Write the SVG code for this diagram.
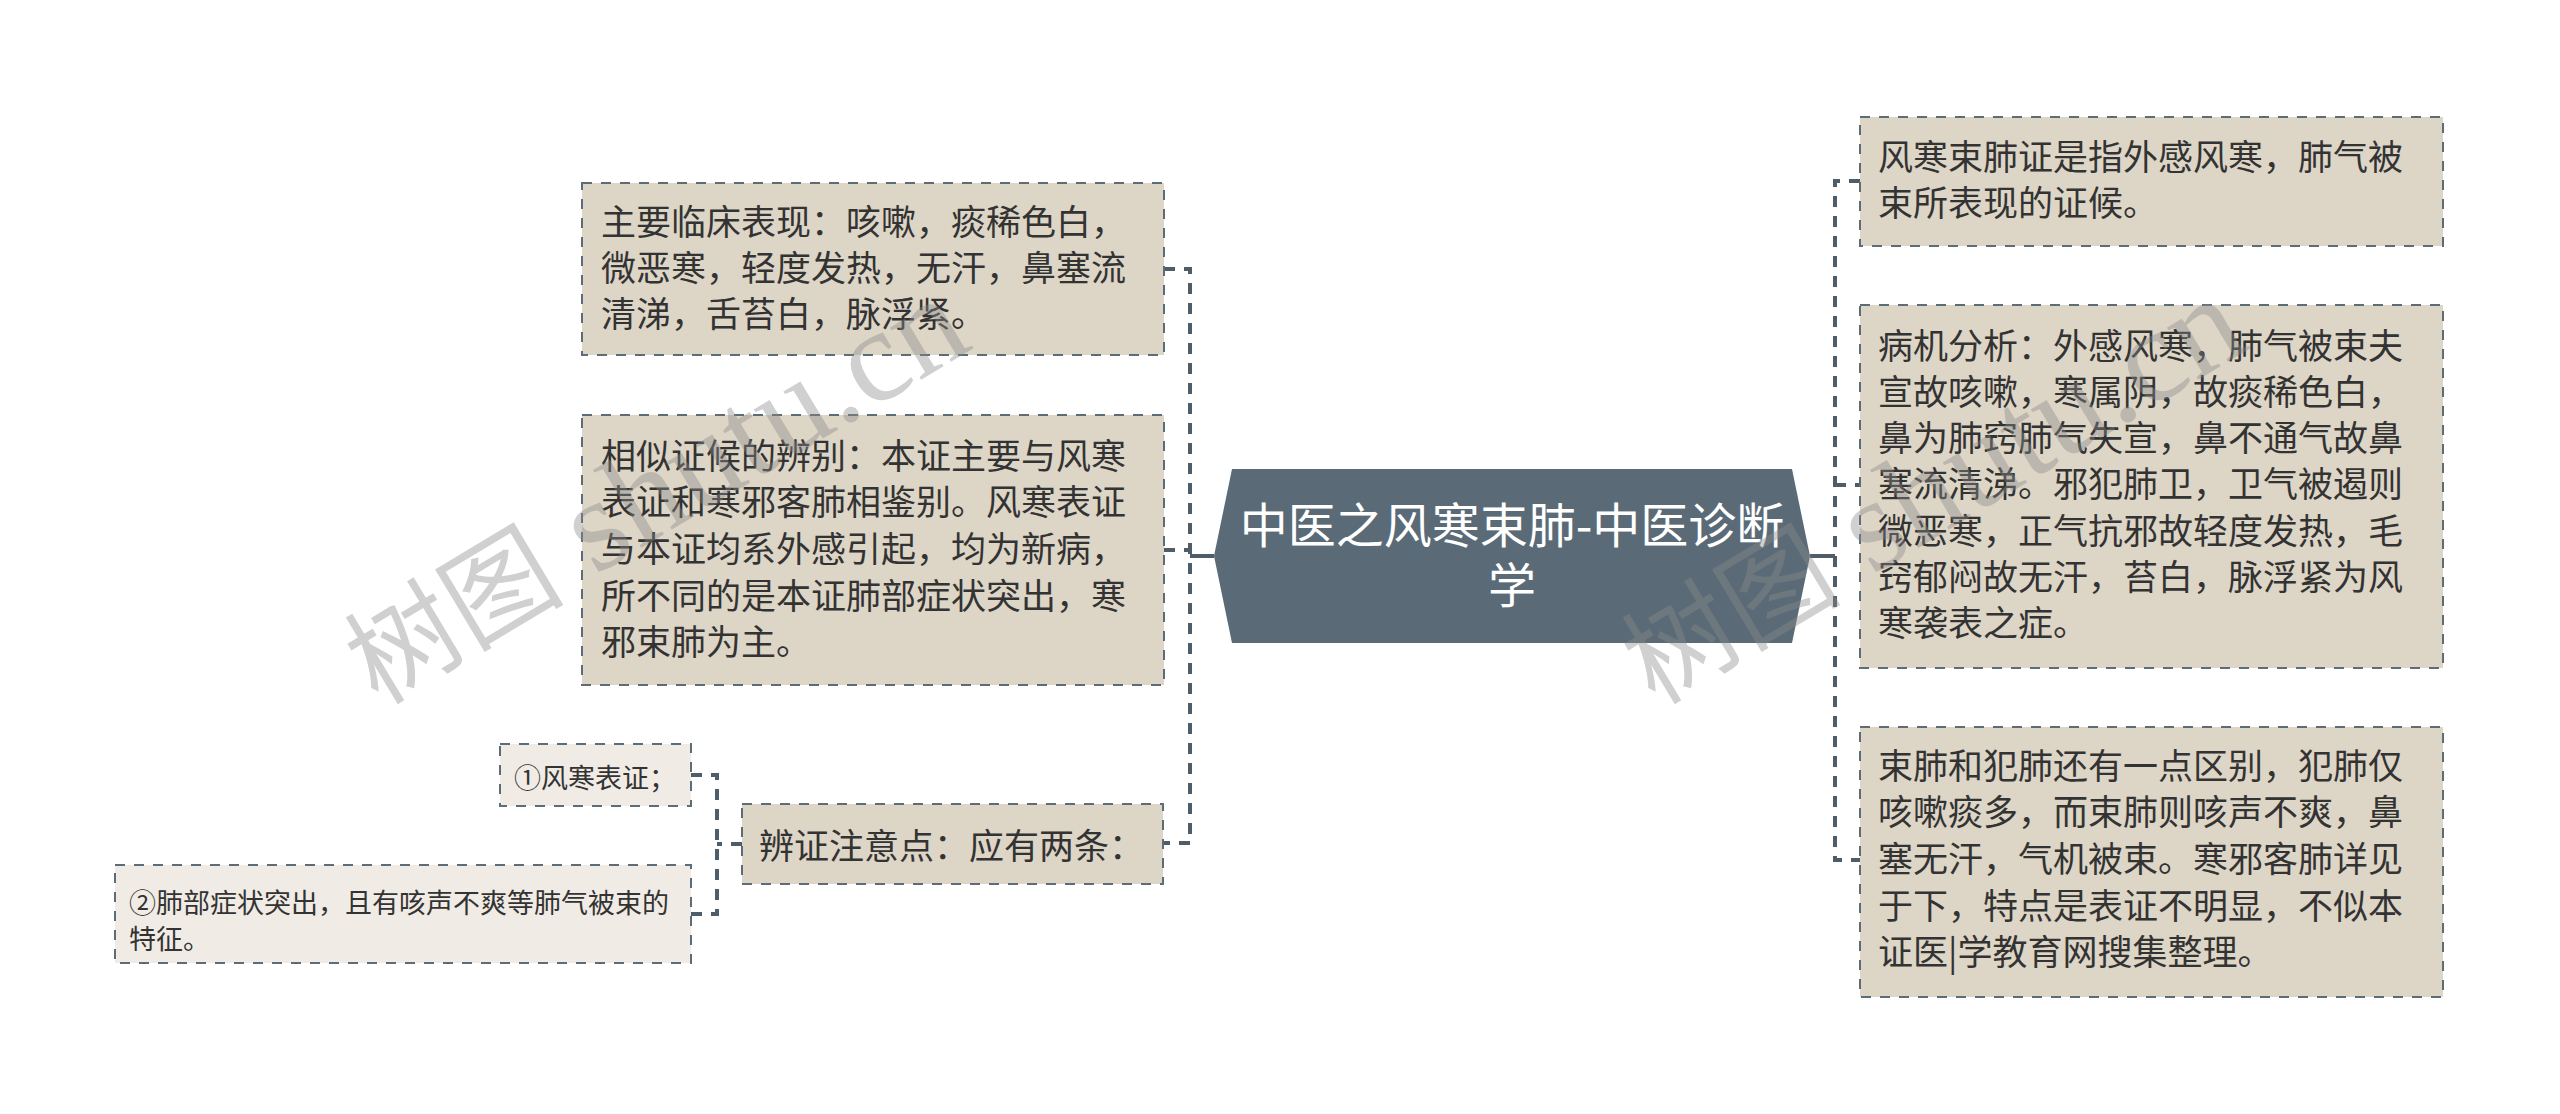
<svg xmlns="http://www.w3.org/2000/svg" width="2560" height="1114" viewBox="0 0 2560 1114">
<style>
.box{fill:#ddd5c6;stroke:#5d6d78;stroke-width:2;stroke-dasharray:10 9}
.sub{fill:#f0ece5;stroke:#5d6d78;stroke-width:2;stroke-dasharray:10 9}
.t{font-family:"Noto Sans CJK SC","Noto Sans",sans-serif;font-size:35px;fill:#333333}
.ts{font-family:"Noto Sans CJK SC","Noto Sans",sans-serif;font-size:27px;fill:#333333}
.title{font-family:"Noto Sans CJK SC","Noto Sans",sans-serif;font-size:48px;fill:#ffffff;text-anchor:middle}
.dash{fill:none;stroke:#4e5d68;stroke-width:4;stroke-dasharray:11 9}
.solid{fill:none;stroke:#4e5d68;stroke-width:4}
.wm{font-family:"Liberation Serif","Noto Sans CJK SC",serif;fill:#8a8a8a;fill-opacity:0.4;font-size:110px}
.wml{font-size:132px}
</style>
<rect width="2560" height="1114" fill="#ffffff"/>
<g id="connectors">
<path class="solid" d="M1214,556 H1190"/>
<path class="dash" d="M1164,269 H1190 V843 H1163"/>
<path class="dash" d="M1164,550 H1190"/>
<path class="solid" d="M1810,556 H1835"/>
<path class="dash" d="M1860,181 H1835 V860 H1860"/>
<path class="dash" d="M1835,485 H1860"/>
<path class="dash" d="M742,844 H717"/>
<path class="dash" d="M691,775 H717 V914 H691"/>
</g>
<g id="center">
<polygon points="1232,469 1792,469 1810,556 1792,643 1232,643 1214,556" fill="#5a6b77"/>
<text class="title"><tspan x="1512" y="543">中医之风寒束肺-中医诊断</tspan><tspan x="1512" y="603">学</tspan></text>
</g>
<g id="node-l1">
<rect class="box" x="582" y="183" width="582" height="172"/>
<text class="t"><tspan x="601" y="235">主要临床表现：咳嗽，痰稀色白，</tspan><tspan x="601" y="281">微恶寒，轻度发热，无汗，鼻塞流</tspan><tspan x="601" y="327">清涕，舌苔白，脉浮紧。</tspan></text>
</g>
<g id="node-l2">
<rect class="box" x="582" y="415" width="582" height="270"/>
<text class="t"><tspan x="601" y="469">相似证候的辨别：本证主要与风寒</tspan><tspan x="601" y="515">表证和寒邪客肺相鉴别。风寒表证</tspan><tspan x="601" y="562">与本证均系外感引起，均为新病，</tspan><tspan x="601" y="609">所不同的是本证肺部症状突出，寒</tspan><tspan x="601" y="655">邪束肺为主。</tspan></text>
</g>
<g id="node-l3">
<rect class="box" x="742" y="804" width="421" height="80"/>
<text class="t" x="759" y="859">辨证注意点：应有两条：</text>
</g>
<g id="node-s1">
<rect class="sub" x="500" y="744" width="191" height="62"/>
<text class="ts" x="514" y="788">①风寒表证；</text>
</g>
<g id="node-s2">
<rect class="sub" x="115" y="865" width="576" height="98"/>
<text class="ts"><tspan x="129" y="913">②肺部症状突出，且有咳声不爽等肺气被束的</tspan><tspan x="129" y="949">特征。</tspan></text>
</g>
<g id="node-r1">
<rect class="box" x="1860" y="117" width="583" height="129"/>
<text class="t"><tspan x="1878" y="170">风寒束肺证是指外感风寒，肺气被</tspan><tspan x="1878" y="216">束所表现的证候。</tspan></text>
</g>
<g id="node-r2">
<rect class="box" x="1860" y="305" width="583" height="363"/>
<text class="t"><tspan x="1878" y="359">病机分析：外感风寒，肺气被束夫</tspan><tspan x="1878" y="405">宣故咳嗽，寒属阴，故痰稀色白，</tspan><tspan x="1878" y="451">鼻为肺窍肺气失宣，鼻不通气故鼻</tspan><tspan x="1878" y="497">塞流清涕。邪犯肺卫，卫气被遏则</tspan><tspan x="1878" y="544">微恶寒，正气抗邪故轻度发热，毛</tspan><tspan x="1878" y="590">窍郁闷故无汗，苔白，脉浮紧为风</tspan><tspan x="1878" y="636">寒袭表之症。</tspan></text>
</g>
<g id="node-r3">
<rect class="box" x="1860" y="727" width="583" height="270"/>
<text class="t"><tspan x="1878" y="779">束肺和犯肺还有一点区别，犯肺仅</tspan><tspan x="1878" y="825">咳嗽痰多，而束肺则咳声不爽，鼻</tspan><tspan x="1878" y="872">塞无汗，气机被束。寒邪客肺详见</tspan><tspan x="1878" y="919">于下，特点是表证不明显，不似本</tspan><tspan x="1878" y="965">证医|学教育网搜集整理。</tspan></text>
</g>
<g id="watermark">
<text class="wm" transform="translate(378,706) rotate(-31)">树图<tspan class="wml"> shutu.cn</tspan></text>
<text class="wm" transform="translate(1655,706) rotate(-31)">树图<tspan class="wml"> shutu.cn</tspan></text>
</g>
</svg>
